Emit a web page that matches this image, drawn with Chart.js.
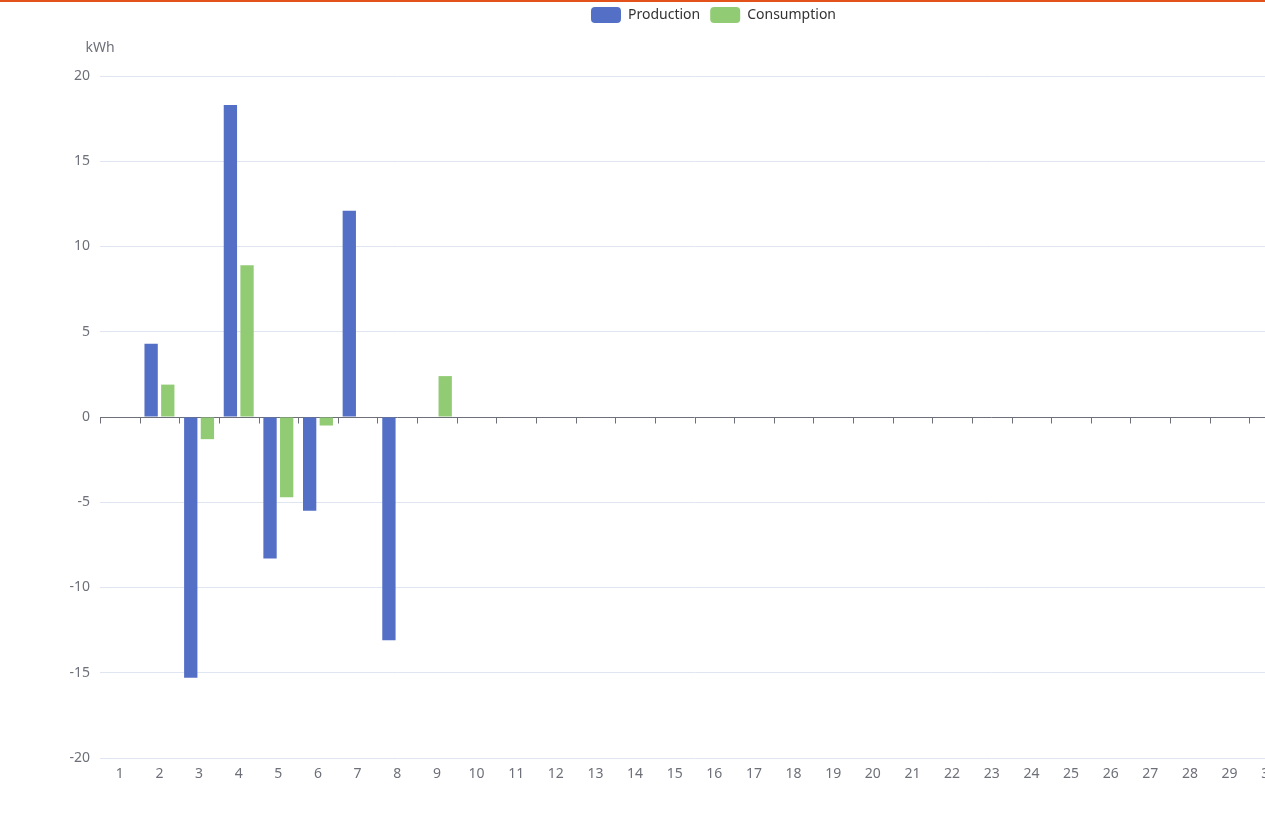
<!DOCTYPE html>
<html lang="en">
<head>
    <meta charset="UTF-8">
    <title>Production / Consumption</title>
    <script src="https://cdn.jsdelivr.net/npm/chart.js"></script>
    <style>
        html, body {
            margin: 0;
            padding: 0;
            overflow: hidden;
            background: #fff;
        }
        .top-line {
            position: absolute;
            left: 0;
            top: 0;
            width: 100%;
            height: 2px;
            background: #e4521b;
            z-index: 2;
        }
        .chart-container {
            position: relative;
            width: 1427px; /* wider than the window, right side is cut off */
            height: 822px;
        }
    </style>
</head>
<body>
    <div class="top-line"></div>
    <div class="chart-container">
        <canvas id="energyChart"></canvas>
    </div>
    <script>
        const days = ['1', '2', '3', '4', '5', '6', '7', '8', '9', '10',
                      '11', '12', '13', '14', '15', '16', '17', '18', '19', '20',
                      '21', '22', '23', '24', '25', '26', '27', '28', '29', '30'];
        const production = [null, 4.3, -15.3, 18.3, -8.3, -5.5, 12.1, -13.1, null, null,
                            null, null, null, null, null, null, null, null, null, null,
                            null, null, null, null, null, null, null, null, null, null];
        const consumption = [null, 1.9, -1.3, 8.9, -4.7, -0.5, null, null, 2.4, null,
                             null, null, null, null, null, null, null, null, null, null,
                             null, null, null, null, null, null, null, null, null, null];
        const yTicks = [-20, -15, -10, -5, 0, 5, 10, 15, 20];
        const unitName = 'kWh';

        const axisColor = '#6E7079';
        const gridColor = '#E0E6F1';
        const fontFamily = '"Noto Sans", "DejaVu Sans", sans-serif';

        // axis name above the y axis + small ticks on the zero line
        const axisExtras = {
            id: 'axisExtras',
            afterDraw(chart) {
                const { ctx, chartArea, scales } = chart;
                const x = scales.x;
                const y = scales.y;
                ctx.save();
                ctx.fillStyle = axisColor;
                ctx.font = '14px ' + fontFamily;
                ctx.textAlign = 'center';
                ctx.textBaseline = 'middle';
                ctx.fillText(unitName, chartArea.left, chartArea.top - 28);

                const y0 = Math.round(y.getPixelForValue(0)) + 0.5;
                const half = (x.getPixelForValue(1) - x.getPixelForValue(0)) / 2;
                ctx.strokeStyle = axisColor;
                ctx.lineWidth = 1;
                ctx.beginPath();
                for (let i = 0; i <= days.length; i++) {
                    const px = Math.round(x.getPixelForValue(i) - half) + 0.5;
                    ctx.moveTo(px, y0);
                    ctx.lineTo(px, y0 + 6);
                }
                ctx.stroke();
                ctx.restore();
            }
        };

        const ctx = document.getElementById('energyChart').getContext('2d');
        const energyChart = new Chart(ctx, {
            type: 'bar',
            data: {
                labels: days,
                datasets: [{
                    label: 'Production',
                    data: production,
                    backgroundColor: '#5470c6',
                    borderWidth: 0,
                    borderRadius: 0,
                    xAxisID: 'x',
                    yAxisID: 'y'
                }, {
                    label: 'Consumption',
                    data: consumption,
                    backgroundColor: '#91cc75',
                    borderWidth: 0,
                    borderRadius: 0,
                    xAxisID: 'x',
                    yAxisID: 'y'
                }]
            },
            options: {
                responsive: true,
                maintainAspectRatio: false,
                animation: false,
                categoryPercentage: 0.84,
                barPercentage: 0.8,
                layout: { padding: { top: -3, left: 0, right: 0, bottom: 0 } },
                plugins: {
                    legend: {
                        position: 'top',
                        labels: {
                            boxWidth: 30,
                            boxHeight: 16,
                            useBorderRadius: true,
                            borderRadius: 4,
                            padding: 10,
                            color: '#333',
                            font: { size: 14, family: fontFamily }
                        }
                    },
                    tooltip: { enabled: false }
                },
                scales: {
                    x: {
                        position: 'bottom',
                        grid: { display: false, drawTicks: false },
                        border: { display: false },
                        ticks: {
                            color: axisColor,
                            font: { size: 14, family: fontFamily },
                            padding: 8,
                            autoSkip: false,
                            maxRotation: 0
                        },
                        afterFit: (scale) => { scale.height = 64; }
                    },
                    xTop: {
                        type: 'category',
                        labels: days,
                        position: 'top',
                        grid: { display: false, drawTicks: false },
                        border: { display: false },
                        ticks: { display: false },
                        afterFit: (scale) => { scale.height = 43; }
                    },
                    y: {
                        position: 'left',
                        min: -20,
                        max: 20,
                        afterBuildTicks: (scale) => {
                            scale.ticks = yTicks.map(v => ({ value: v }));
                        },
                        grid: {
                            drawTicks: false,
                            color: (c) => (c.tick && c.tick.value === 0 ? axisColor : gridColor),
                            lineWidth: 1
                        },
                        border: { display: false },
                        ticks: {
                            color: axisColor,
                            font: { size: 14, family: fontFamily },
                            padding: 10
                        },
                        afterFit: (scale) => { scale.width = 100; }
                    },
                    yRight: {
                        position: 'right',
                        grid: { display: false, drawTicks: false },
                        border: { display: false },
                        ticks: { display: false },
                        afterFit: (scale) => { scale.width = 138; }
                    }
                }
            },
            plugins: [axisExtras]
        });
    </script>
</body>
</html>
